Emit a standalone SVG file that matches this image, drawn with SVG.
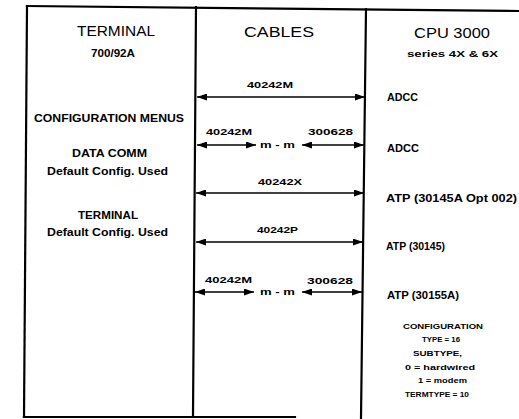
<svg xmlns="http://www.w3.org/2000/svg" width="519" height="419" viewBox="0 0 519 419">
<style>
  text { font-family: "Liberation Sans", Arial, sans-serif; fill: #000; }
  .hd { font-size: 15px; }
  .lb { font-size: 10px; font-weight: bold; }
  .cb { font-size: 9px; font-weight: bold; }
  .sm { font-size: 7px; font-weight: bold; }
  .frame { stroke: #000; stroke-width: 2.2; fill: none; stroke-linecap: square; }
  .arr { stroke: #000; stroke-width: 1.6; fill: none; marker-start: url(#ah); marker-end: url(#ah); }
</style>
<defs>
  <marker id="ah" viewBox="0 0 10 7" refX="10" refY="3.5" markerUnits="userSpaceOnUse" markerWidth="10" markerHeight="7" orient="auto-start-reverse">
    <path d="M0,0 L10,3.5 L0,7 z" fill="#000"/>
  </marker>
</defs>
<rect width="519" height="419" fill="#fff"/>
<g id="frame">
  <line class="frame" x1="27" y1="6" x2="519" y2="11"/>
  <line class="frame" x1="27" y1="6" x2="24" y2="417"/>
  <line class="frame" x1="24" y1="417" x2="295" y2="417"/>
  <line class="frame" x1="196" y1="7" x2="193" y2="416"/>
  <line class="frame" x1="366" y1="9" x2="361" y2="418"/>
</g>
<g id="terminal">
  <text class="hd" x="77" y="36" textLength="78" lengthAdjust="spacingAndGlyphs">TERMINAL</text>
  <text class="lb" x="91" y="57" textLength="44" lengthAdjust="spacingAndGlyphs">700/92A</text>
  <text class="lb" x="34" y="122" textLength="150" lengthAdjust="spacingAndGlyphs">CONFIGURATION MENUS</text>
  <text class="lb" x="72" y="157" textLength="75" lengthAdjust="spacingAndGlyphs">DATA COMM</text>
  <text class="lb" x="47" y="175" textLength="121" lengthAdjust="spacingAndGlyphs">Default Config. Used</text>
  <text class="lb" x="78" y="219" textLength="60" lengthAdjust="spacingAndGlyphs">TERMINAL</text>
  <text class="lb" x="47" y="236" textLength="121" lengthAdjust="spacingAndGlyphs">Default Config. Used</text>
</g>
<g id="cables">
  <text class="hd" x="244" y="37" textLength="70" lengthAdjust="spacingAndGlyphs">CABLES</text>
  <text class="cb" x="247" y="88" textLength="46" lengthAdjust="spacingAndGlyphs">40242M</text>
  <text class="cb" x="206" y="135" textLength="46" lengthAdjust="spacingAndGlyphs">40242M</text>
  <text class="cb" x="260" y="148" textLength="35" lengthAdjust="spacingAndGlyphs">m - m</text>
  <text class="cb" x="308" y="135" textLength="45" lengthAdjust="spacingAndGlyphs">300628</text>
  <text class="cb" x="258" y="185" textLength="44" lengthAdjust="spacingAndGlyphs">40242X</text>
  <text class="cb" x="257" y="233" textLength="41" lengthAdjust="spacingAndGlyphs">40242P</text>
  <text class="cb" x="205" y="283" textLength="47" lengthAdjust="spacingAndGlyphs">40242M</text>
  <text class="cb" x="260" y="295" textLength="35" lengthAdjust="spacingAndGlyphs">m - m</text>
  <text class="cb" x="307" y="284" textLength="46" lengthAdjust="spacingAndGlyphs">300628</text>
</g>
<g id="cpu">
  <text class="hd" x="414" y="38" textLength="76" lengthAdjust="spacingAndGlyphs">CPU 3000</text>
  <text class="cb" x="407" y="57" textLength="91" lengthAdjust="spacingAndGlyphs">series 4X &amp; 6X</text>
  <text class="lb" x="387" y="101" textLength="31" lengthAdjust="spacingAndGlyphs">ADCC</text>
  <text class="lb" x="387" y="152" textLength="32" lengthAdjust="spacingAndGlyphs">ADCC</text>
  <text class="lb" x="386" y="202" textLength="131" lengthAdjust="spacingAndGlyphs">ATP (30145A Opt 002)</text>
  <text class="lb" x="386" y="250" textLength="59" lengthAdjust="spacingAndGlyphs">ATP  (30145)</text>
  <text class="lb" x="387" y="299" textLength="72" lengthAdjust="spacingAndGlyphs">ATP  (30155A)</text>
  <text class="sm" x="403" y="329" textLength="80" lengthAdjust="spacingAndGlyphs">CONFIGURATION</text>
  <text class="sm" x="422" y="342" textLength="38" lengthAdjust="spacingAndGlyphs">TYPE = 16</text>
  <text class="sm" x="413" y="356" textLength="49" lengthAdjust="spacingAndGlyphs">SUBTYPE,</text>
  <text class="sm" x="405" y="370" textLength="70" lengthAdjust="spacingAndGlyphs">0 = hardwired</text>
  <text class="sm" x="418" y="383" textLength="49" lengthAdjust="spacingAndGlyphs">1 = modem</text>
  <text class="sm" x="405" y="397" textLength="64" lengthAdjust="spacingAndGlyphs">TERMTYPE = 10</text>
</g>
<g id="connectors">
  <line class="arr" x1="197" y1="97" x2="365" y2="97"/>
  <line class="arr" x1="197" y1="145" x2="256" y2="145"/>
  <line class="arr" x1="302" y1="145" x2="364" y2="145"/>
  <line class="arr" x1="196" y1="193" x2="364" y2="193"/>
  <line class="arr" x1="196" y1="242" x2="363" y2="242"/>
  <line class="arr" x1="195" y1="292" x2="254" y2="292"/>
  <line class="arr" x1="302" y1="292" x2="362" y2="292"/>
</g>
</svg>
